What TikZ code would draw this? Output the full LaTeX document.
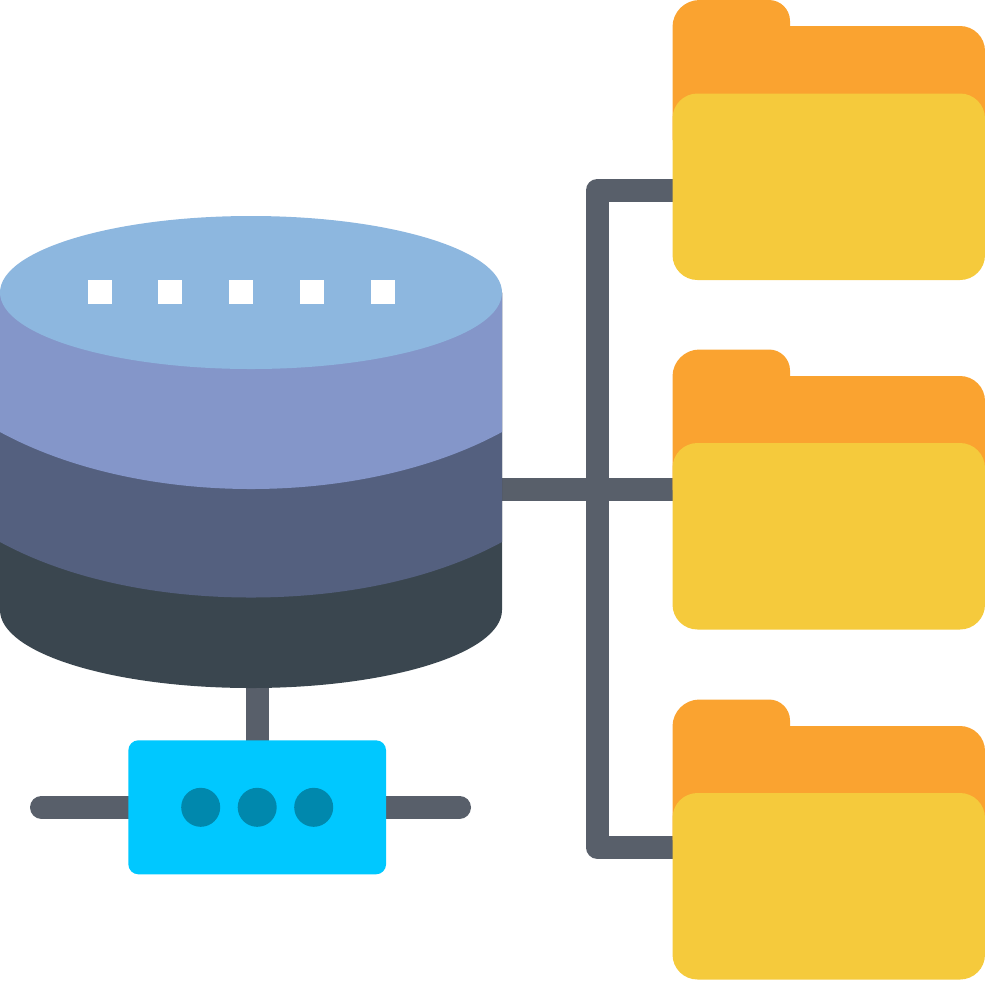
\documentclass[tikz,border=0pt]{standalone}
\usepackage{xcolor}
\usetikzlibrary{backgrounds}
\definecolor{dbtop}{HTML}{8DB7DF}
\definecolor{dbone}{HTML}{8496C9}
\definecolor{dbtwo}{HTML}{54607F}
\definecolor{dbthree}{HTML}{3A464F}
\definecolor{wirecol}{HTML}{585F6A}
\definecolor{tabcol}{HTML}{FAA330}
\definecolor{frontcol}{HTML}{F5CA3C}
\definecolor{hubcol}{HTML}{00C8FF}
\definecolor{dotcol}{HTML}{0088AD}
\begin{document}
\begin{tikzpicture}[
	wire/.style={draw=wirecol, line width=0.23cm, line cap=round, line join=round},
	front/.style={rectangle, fill=frontcol, rounded corners=0.25cm, minimum width=3.125cm, minimum height=1.865cm, inner sep=0pt},
	led/.style={rectangle, fill=white, minimum size=0.24cm, inner sep=0pt},
	hubdot/.style={circle, fill=dotcol, minimum size=0.39cm, inner sep=0pt}]
		\useasboundingbox (0,0) rectangle (9.85,9.8);
		%\draw [help lines] (0,0) grid (9,9);
		% Database
		\fill [dbthree] (0,6.875) -- (0,3.7) arc [start angle=180, end angle=360, x radius=2.51, y radius=0.78] -- (5.02,6.875) -- cycle;
		\fill [dbtwo] (0,6.875) -- (0,4.38) .. controls (0.7,4.0) and (1.6,3.825) .. (2.51,3.825) .. controls (3.42,3.825) and (4.32,4.0) .. (5.02,4.38) -- (5.02,6.875) -- cycle;
		\fill [dbone] (0,6.875) -- (0,5.48) .. controls (0.7,5.10) and (1.6,4.91) .. (2.51,4.91) .. controls (3.42,4.91) and (4.32,5.10) .. (5.02,5.48) -- (5.02,6.875) -- cycle;
		\fill [dbtop] (2.51,6.875) ellipse (2.51cm and 0.765cm);
		\node (ledA) [led] at (1.00,6.88) {};
		\node (ledB) [led] at (1.70,6.88) {};
		\node (ledC) [led] at (2.41,6.88) {};
		\node (ledD) [led] at (3.12,6.88) {};
		\node (ledE) [led] at (3.83,6.88) {};
		\coordinate (dbOut) at (5.02,4.905);
		\coordinate (dbBase) at (2.572,2.95);
		% Cartella in alto
		\fill [tabcol] (6.725,8.4) [rounded corners=0.27cm] -- (6.725,9.8) [rounded corners=0.21cm] -- (7.9,9.8) [sharp corners] -- (7.9,9.54) [rounded corners=0.25cm] -- (9.85,9.54) [sharp corners] -- (9.85,8.4) -- cycle;
		\node (folderA) [front] at (8.2875,7.9325) {};
		% Cartella in mezzo
		\fill [tabcol] (6.725,4.9) [rounded corners=0.27cm] -- (6.725,6.305) [rounded corners=0.21cm] -- (7.9,6.305) [sharp corners] -- (7.9,6.04) [rounded corners=0.25cm] -- (9.85,6.04) [sharp corners] -- (9.85,4.9) -- cycle;
		\node (folderB) [front] at (8.2875,4.4375) {};
		% Cartella in basso
		\fill [tabcol] (6.725,1.4) [rounded corners=0.27cm] -- (6.725,2.805) [rounded corners=0.21cm] -- (7.9,2.805) [sharp corners] -- (7.9,2.54) [rounded corners=0.25cm] -- (9.85,2.54) [sharp corners] -- (9.85,1.4) -- cycle;
		\node (folderC) [front] at (8.2875,0.9375) {};
		% Hub
		\node (hub) [rectangle, fill=hubcol, rounded corners=0.1cm, minimum width=2.577cm, minimum height=1.34cm, inner sep=0pt] at (2.572,1.727) {};
		\node (dotA) [hubdot] at (2.007,1.727) {};
		\node (dotB) [hubdot] at (2.572,1.727) {};
		\node (dotC) [hubdot] at (3.137,1.727) {};
		% Collegamenti
		\coordinate (portA) at (6.725,7.895);
		\coordinate (portB) at (6.725,4.905);
		\coordinate (portC) at (6.725,1.33);
		\coordinate (trunkTop) at (5.97,7.895);
		\coordinate (trunkBot) at (5.97,1.33);
		\coordinate (stubL) at (0.415,1.727);
		\coordinate (stubR) at (4.595,1.727);
		\begin{scope}[on background layer]
			\draw [wire] (portA) -- (trunkTop) -- (trunkBot) -- (portC);
			\draw [wire] (dbOut) -- (portB);
			\draw [wire] (dbBase) -- (hub.north);
			\draw [wire] (stubL) -- (hub.west);
			\draw [wire] (hub.east) -- (stubR);
		\end{scope}
	\end{tikzpicture}
\end{document}
